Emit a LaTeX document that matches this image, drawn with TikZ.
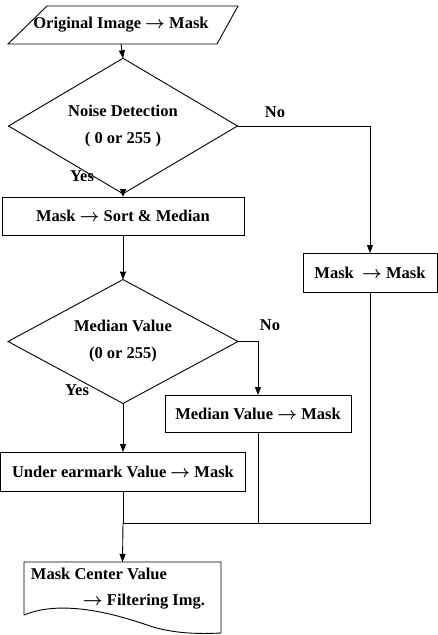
\documentclass[tikz,border=0pt]{standalone}
\usepackage{fontspec}
\setmainfont{Liberation Serif}
\usetikzlibrary{shapes.geometric,arrows.meta}
\newcommand{\myarr}{\ensuremath{\boldsymbol{\rightarrow}}}
\usepackage{amsmath,bm}
\begin{document}
\begin{tikzpicture}[x=1pt,y=-1pt,
  font=\fontsize{16.5}{19}\selectfont\bfseries,
  line width=0.9pt,
  every node/.style={outer sep=0pt},
  box/.style={draw, rectangle, inner sep=0pt},
  dec/.style={draw, diamond, inner sep=-4pt, align=center},
  holder/.style={rectangle, inner sep=0pt},
  arr/.style={-{Triangle[length=8pt,width=6pt]}},
  lbl/.style={inner sep=0pt}]
\useasboundingbox (0,0) rectangle (438,635);

% input (parallelogram)
\node[holder, minimum width=184pt, minimum height=38pt] (in) at (121,25) {Original Image \myarr{} Mask};
\draw (8,44) -- (47,6) -- (238,6) -- (217,44) -- cycle;

% decisions and processes
\node[dec, minimum width=229pt, minimum height=80pt] (d1) at (123,126) {Noise Detection\\[8pt]( 0 or 255 )};
\node[box, minimum width=242pt, minimum height=38pt] (sort) at (123,216) {Mask \myarr{} Sort \& Median};
\node[box, minimum width=134pt, minimum height=39pt] (mm) at (370,272.5) {Mask\ \ \myarr{} Mask};
\node[dec, minimum width=230pt, minimum height=81pt] (d2) at (123,341.5) {Median Value\\[8pt](0 or 255)};
\node[box, minimum width=186pt, minimum height=37pt] (med) at (258,413.5) {Median Value \myarr{} Mask};
\node[box, minimum width=245pt, minimum height=39pt] (und) at (123,471.5) {Under earmark Value \myarr{} Mask};

% output document
\node[holder, minimum width=197pt, minimum height=71pt] (out) at (122.5,597.5) {};
\draw (24,615) -- (24,562) -- (221,562) -- (221,633)
  .. controls (200,634) and (175,634) .. (150,626)
  .. controls (110,612) and (60,600) .. (24,615);
\node[lbl, align=left] (outtxt) at (118,589) {Mask Center Value\\[7pt]\hspace*{52pt}\myarr{} Filtering Img.};

% labels
\node[lbl] (no1) at (275,112) {No};
\node[lbl] (yes1) at (82,176) {Yes};
\node[lbl] (no2) at (270,325) {No};
\node[lbl] (yes2) at (77,390) {Yes};

% connectors
\draw[arr] (in.south) -- (d1.north);
\draw[arr] (d1.south) -- (sort.north);
\draw[arr] (d1.east) -| (mm.north);
\draw[arr] (sort.south) -- (d2.north);
\draw[arr] (d2.east) -| (med.north);
\draw[arr] (d2.south) -- (und.north);
\coordinate (j) at (123,523);
\draw (und.south) -- (j);
\draw (med.south) -- (med.south |- j);
\draw (mm.south) -- (mm.south |- j) -- (j);
\draw[arr] (j) -- (out.north);
\end{tikzpicture}
\end{document}
